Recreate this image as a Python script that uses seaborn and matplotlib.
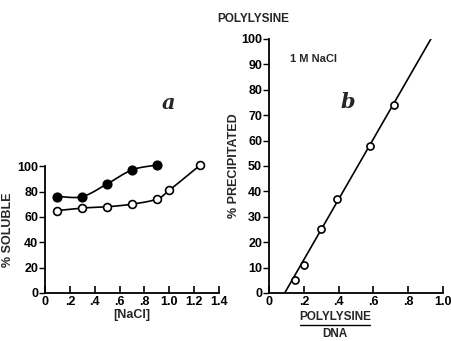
import numpy as np
import pandas as pd
import matplotlib
matplotlib.use("Agg")
import matplotlib.pyplot as plt
import seaborn as sns

sns.set_theme(style="ticks")
plt.rcParams['font.family'] = ['Liberation Sans', 'DejaVu Sans']

# Panel a data
nacl_filled = [0.1, 0.3, 0.5, 0.7, 0.9]
sol_filled = [76, 76, 86, 97, 101]
nacl_open = [0.1, 0.3, 0.5, 0.7, 0.9, 1.0, 1.25]
sol_open = [65, 67, 68, 70, 74, 81, 101]
a_xticks = [0, 0.2, 0.4, 0.6, 0.8, 1.0, 1.2, 1.4]
a_xlabels = ["0", ".2", ".4", ".6", ".8", "1.0", "1.2", "1.4"]
a_yticks = [0, 20, 40, 60, 80, 100]

# Panel b data
ratio = [0.15, 0.2, 0.3, 0.39, 0.58, 0.72]
precip = [5, 11, 25, 37, 58, 74]
fit_x = [0.09, 0.93]
fit_y = [0, 100]
b_xticks = [0, 0.2, 0.4, 0.6, 0.8, 1.0]
b_xlabels = ["0", ".2", ".4", ".6", ".8", "1.0"]
b_yticks = list(range(0, 101, 10))


def catmull(x, y, n=30):
    x = np.asarray(x, float); y = np.asarray(y, float)
    px = np.concatenate([[2 * x[0] - x[1]], x, [2 * x[-1] - x[-2]]])
    py = np.concatenate([[2 * y[0] - y[1]], y, [2 * y[-1] - y[-2]]])
    ox, oy = [], []
    t = np.linspace(0, 1, n)
    for i in range(1, len(px) - 2):
        for P, out in ((px, ox), (py, oy)):
            p0, p1, p2, p3 = P[i - 1], P[i], P[i + 1], P[i + 2]
            out.extend(0.5 * ((2 * p1) + (-p0 + p2) * t + (2 * p0 - 5 * p1 + 4 * p2 - p3) * t ** 2
                              + (-p0 + 3 * p1 - 3 * p2 + p3) * t ** 3))
    return np.array(ox), np.array(oy)


fig = plt.figure(figsize=(4.51, 3.41), dpi=100)
axa = fig.add_axes([0.0998, 0.1408, 0.386, 0.372])
axb = fig.add_axes([0.5965, 0.1408, 0.386, 0.745])

# Panel a
cx, cy = catmull(nacl_filled, sol_filled)
axa.plot(cx, cy, color="black", lw=1.2, zorder=1, clip_on=False)
cx, cy = catmull(nacl_open, sol_open)
axa.plot(cx, cy, color="black", lw=1.2, zorder=1, clip_on=False)
sns.scatterplot(x=nacl_filled, y=sol_filled, ax=axa, color="black", s=40,
                edgecolor="black", linewidth=1.0, zorder=3, legend=False, clip_on=False)
sns.scatterplot(x=nacl_open, y=sol_open, ax=axa, facecolor="white", s=32,
                edgecolor="black", linewidth=1.2, zorder=3, legend=False, clip_on=False)
axa.set_xlim(0, 1.4)
axa.set_ylim(0, 100)
axa.set_xticks(a_xticks)
axa.set_xticklabels(a_xlabels)
axa.set_yticks(a_yticks)
axa.set_xlabel("[NaCl]", fontsize=9, fontweight="bold", labelpad=1)
axa.set_ylabel("% SOLUBLE", fontsize=9, fontweight="bold", labelpad=2)
axa.text(0.99, 150, "a", fontsize=15, fontstyle="italic", fontweight="bold",
         family="DejaVu Serif", ha="center", va="center")

# Panel b
sns.lineplot(x=fit_x, y=fit_y, ax=axb, color="black", lw=1.2, zorder=1)
sns.scatterplot(x=ratio, y=precip, ax=axb, facecolor="white", s=26,
                edgecolor="black", linewidth=1.2, zorder=3, legend=False)
axb.set_xlim(0, 1.0)
axb.set_ylim(0, 100)
axb.set_xticks(b_xticks)
axb.set_xticklabels(b_xlabels)
axb.set_yticks(b_yticks)
axb.set_ylabel("% PRECIPITATED", fontsize=9, fontweight="bold", labelpad=1)
axb.text(0.455, 75, "b", fontsize=15, fontstyle="italic", fontweight="bold",
         family="DejaVu Serif", ha="center", va="center")
axb.text(0.12, 92, "1 M NaCl", fontsize=8, fontweight="bold", va="center")
fig.text(0.562, 0.944, "POLYLYSINE", fontsize=8.5, fontweight="bold", ha="center", va="center")
# fraction label
axb.text(0.38, -0.094, "POLYLYSINE", transform=axb.transAxes, fontsize=8.5,
         fontweight="bold", ha="center", va="center")
axb.plot([0.18, 0.58], [-0.126, -0.126], transform=axb.transAxes, color="black",
         lw=1.0, clip_on=False)
axb.text(0.38, -0.163, "DNA", transform=axb.transAxes, fontsize=8.5,
         fontweight="bold", ha="center", va="center")

for ax in (axa, axb):
    sns.despine(ax=ax)
    for s in ("left", "bottom"):
        ax.spines[s].set_linewidth(1.3)
        ax.spines[s].set_color("black")
    ax.tick_params(axis="x", direction="in", length=5, width=1.2, labelsize=9, pad=2, colors="black")
    ax.tick_params(axis="y", direction="out", length=4, width=1.0, labelsize=9, pad=1, colors="black")
    for lab in ax.get_xticklabels() + ax.get_yticklabels():
        lab.set_fontweight("bold")
    ax.set_facecolor("white")
    if ax.get_legend():
        ax.get_legend().remove()

fig.savefig("out.png", dpi=100, facecolor="white")
